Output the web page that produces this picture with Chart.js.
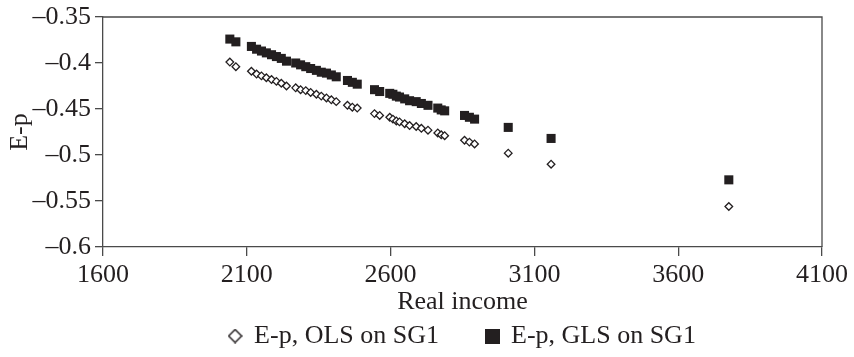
<!DOCTYPE html>
<html>
<head>
<meta charset="utf-8">
<script src="https://cdn.jsdelivr.net/npm/chart.js@4"></script>
<style>
  html, body { margin: 0; padding: 0; background: #fff; }
</style>
</head>
<body>
<canvas id="myChart" width="854" height="357"></canvas>
<script>
// real income per group, with the elasticity estimates from both fits
const income = [2041, 2062, 2116, 2134, 2151, 2168, 2186, 2203, 2220, 2238,
  2270, 2287, 2305, 2322, 2342, 2359, 2377, 2394, 2411, 2450,
  2467, 2484, 2544, 2562, 2597, 2608, 2620, 2631, 2649, 2666,
  2689, 2707, 2730, 2764, 2776, 2788, 2857, 2874, 2892, 3009,
  3158, 3776];
const olsEp = [-0.399, -0.404, -0.409, -0.412, -0.414, -0.416, -0.418, -0.420, -0.422, -0.425,
  -0.427, -0.429, -0.430, -0.432, -0.434, -0.436, -0.438, -0.440, -0.442, -0.446,
  -0.448, -0.449, -0.455, -0.457, -0.459, -0.461, -0.463, -0.464, -0.466, -0.468,
  -0.469, -0.471, -0.473, -0.476, -0.478, -0.479, -0.484, -0.486, -0.488, -0.498,
  -0.510, -0.556];
const glsEp = [-0.374, -0.377, -0.382, -0.385, -0.387, -0.389, -0.391, -0.393, -0.395, -0.398,
  -0.400, -0.402, -0.404, -0.406, -0.408, -0.410, -0.411, -0.413, -0.415, -0.419,
  -0.421, -0.423, -0.429, -0.431, -0.433, -0.434, -0.436, -0.437, -0.439, -0.441,
  -0.442, -0.444, -0.446, -0.449, -0.451, -0.452, -0.457, -0.459, -0.461, -0.470,
  -0.482, -0.527];
const seriesNames = ['E-p, OLS on SG1', 'E-p, GLS on SG1'];
const xTicks = [1600, 2100, 2600, 3100, 3600, 4100];
const yTicks = [-0.6, -0.55, -0.5, -0.45, -0.4, -0.35];

const ink = '#231f20';
const axisColor = '#4a4a4a';

Chart.defaults.font.family = "'Liberation Serif', 'Times New Roman', serif";
Chart.defaults.font.size = 26;
Chart.defaults.color = ink;

// small canvases used as legend markers
function makeMark(size, draw) {
  const c = document.createElement('canvas');
  c.width = size;
  c.height = size;
  draw(c.getContext('2d'), size);
  return c;
}
const diamondMark = makeMark(15, (ctx, s) => {
  ctx.strokeStyle = ink;
  ctx.lineWidth = 1.5;
  ctx.beginPath();
  ctx.moveTo(s / 2, 1);
  ctx.lineTo(s - 1, s / 2);
  ctx.lineTo(s / 2, s - 1);
  ctx.lineTo(1, s / 2);
  ctx.closePath();
  ctx.stroke();
});
const squareMark = makeMark(15, (ctx, s) => {
  ctx.fillStyle = ink;
  ctx.fillRect(0, 0, s, s);
});

// top and right edges of the plot box
const framePlugin = {
  id: 'frame',
  beforeDatasetsDraw(chart) {
    const {ctx, chartArea} = chart;
    ctx.save();
    ctx.strokeStyle = axisColor;
    ctx.lineWidth = 1.3;
    ctx.beginPath();
    ctx.moveTo(chartArea.left, chartArea.top);
    ctx.lineTo(chartArea.right, chartArea.top);
    ctx.lineTo(chartArea.right, chartArea.bottom);
    ctx.stroke();
    ctx.restore();
  }
};

const data = {
  datasets: [{
    label: seriesNames[0],
    data: income.map((x, i) => ({x: x, y: olsEp[i]})),
    pointStyle: 'rectRot',
    pointRadius: 3.8,
    pointBorderWidth: 1.3,
    borderColor: ink,
    backgroundColor: '#ffffff',
    showLine: false
  }, {
    label: seriesNames[1],
    data: income.map((x, i) => ({x: x, y: glsEp[i]})),
    pointStyle: 'rect',
    pointRadius: 6.4,
    pointBorderWidth: 0,
    borderColor: ink,
    backgroundColor: ink,
    showLine: false
  }]
};

const config = {
  type: 'scatter',
  data: data,
  plugins: [framePlugin],
  options: {
    responsive: false,
    devicePixelRatio: 1,
    animation: false,
    layout: {
      padding: {top: 14, right: 31, bottom: -2, left: 0}
    },
    scales: {
      x: {
        type: 'linear',
        position: 'bottom',
        min: 1600,
        max: 4100,
        afterBuildTicks: scale => { scale.ticks = xTicks.map(v => ({value: v})); },
        afterFit: scale => { scale.height = 68; },
        ticks: {
          padding: 6,
          font: {lineHeight: 1},
          callback: v => String(v)
        },
        grid: {
          drawOnChartArea: false,
          tickLength: 9,
          color: axisColor,
          lineWidth: 1.3
        },
        border: {color: axisColor, width: 1.3},
        title: {
          display: true,
          text: 'Real income',
          padding: {top: 0, bottom: 0},
          font: {lineHeight: 1}
        }
      },
      y: {
        type: 'linear',
        min: -0.6,
        max: -0.35,
        afterBuildTicks: scale => { scale.ticks = yTicks.map(v => ({value: v})); },
        afterFit: scale => { scale.width = 103; },
        ticks: {
          padding: 4,
          font: {lineHeight: 1},
          callback: v => (v < 0 ? '\u2013' : '') + String(Math.abs(v))
        },
        grid: {
          drawOnChartArea: false,
          tickLength: 8,
          color: axisColor,
          lineWidth: 1.3
        },
        border: {color: axisColor, width: 1.3},
        title: {
          display: true,
          text: 'E-p',
          padding: {top: 7, bottom: 0},
          font: {lineHeight: 1}
        }
      }
    },
    plugins: {
      legend: {
        position: 'bottom',
        fullSize: false,
        labels: {
          usePointStyle: true,
          boxWidth: 12,
          boxHeight: 12,
          padding: 8,
          color: ink,
          generateLabels(chart) {
            const items = Chart.defaults.plugins.legend.labels.generateLabels(chart);
            items[0].pointStyle = diamondMark;
            items[0].text = seriesNames[0] + '      ';
            items[1].pointStyle = squareMark;
            return items;
          }
        }
      },
      tooltip: {enabled: false}
    }
  }
};

const myChart = new Chart(
  document.getElementById('myChart'),
  config
);
</script>
</body>
</html>
